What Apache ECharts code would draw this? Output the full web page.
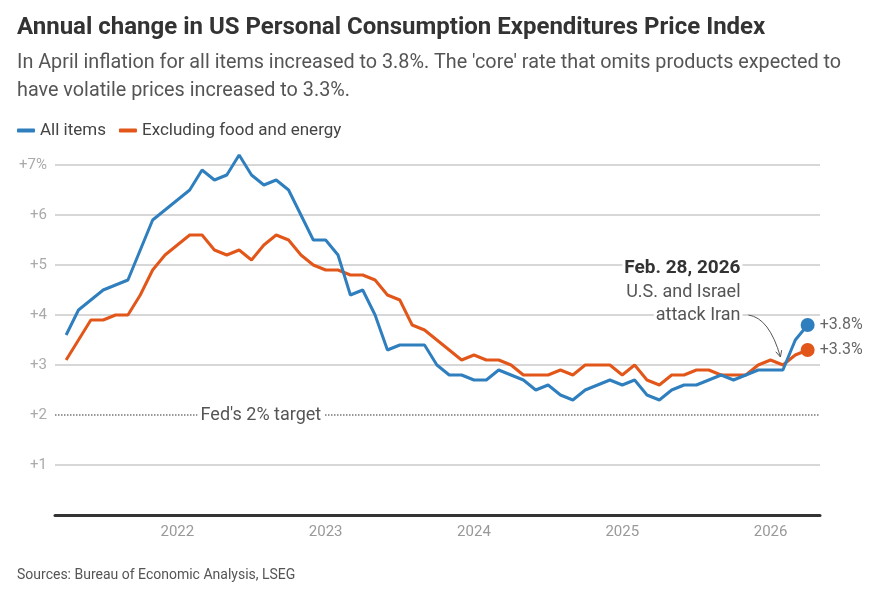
<!DOCTYPE html>
<html>
<head>
<meta charset="utf-8">
<script src="https://cdn.jsdelivr.net/npm/echarts@6/dist/echarts.min.js"></script>
<style>
  html, body { margin: 0; padding: 0; background: #fff; }
  #chart { width: 888px; height: 593px; }
</style>
</head>
<body>
<div id="chart"></div>
<script>
// monthly readings, Apr 2021 .. Apr 2026
const startMonth = 3; // months since Jan 2021 (Apr 2021)
const allItems = [3.6, 4.1, 4.3, 4.5, 4.6, 4.7, 5.3, 5.9, 6.1, 6.3,
  6.5, 6.9, 6.7, 6.8, 7.2, 6.8, 6.6, 6.7, 6.5, 6.0,
  5.5, 5.5, 5.2, 4.4, 4.5, 4.0, 3.3, 3.4, 3.4, 3.4,
  3.0, 2.8, 2.8, 2.7, 2.7, 2.9, 2.8, 2.7, 2.5, 2.6,
  2.4, 2.3, 2.5, 2.6, 2.7, 2.6, 2.7, 2.4, 2.3, 2.5,
  2.6, 2.6, 2.7, 2.8, 2.7, 2.8, 2.9, 2.9, 2.9, 3.5, 3.8];
const core = [3.1, 3.5, 3.9, 3.9, 4.0, 4.0, 4.4, 4.9, 5.2, 5.4,
  5.6, 5.6, 5.3, 5.2, 5.3, 5.1, 5.4, 5.6, 5.5, 5.2,
  5.0, 4.9, 4.9, 4.8, 4.8, 4.7, 4.4, 4.3, 3.8, 3.7,
  3.5, 3.3, 3.1, 3.2, 3.1, 3.1, 3.0, 2.8, 2.8, 2.8,
  2.9, 2.8, 3.0, 3.0, 3.0, 2.8, 3.0, 2.7, 2.6, 2.8,
  2.8, 2.9, 2.9, 2.8, 2.8, 2.8, 3.0, 3.1, 3.0, 3.2, 3.3];

const seriesNames = ["All items", "Excluding food and energy"];
const colors = ["#2f7fbf", "#e2561a"];
const yearTicks = [12, 24, 36, 48, 60];
const yearLabels = ["2022", "2023", "2024", "2025", "2026"];
const fedTarget = 2;

const FONT = "Roboto";

function toPoints(values) {
  return values.map((v, i) => {
    const pt = [startMonth + i, v];
    if (i === values.length - 1) {
      return { value: pt, symbol: "circle", symbolSize: 14 };
    }
    return pt;
  });
}

const chart = echarts.init(document.getElementById("chart"), null, { renderer: "canvas" });

function lineSeries(i, values) {
  return {
    type: "line",
    name: seriesNames[i],
    data: toPoints(values),
    symbol: "none",
    showSymbol: true,
    clip: false,
    z: 3 + (1 - i),
    color: colors[i],
    itemStyle: { color: colors[i] },
    lineStyle: { width: 3, color: colors[i] },
    emphasis: { disabled: true },
    endLabel: {
      show: true,
      formatter: () => "+" + values[values.length - 1].toFixed(1) + "%",
      color: "#666",
      fontSize: 16,
      fontFamily: FONT,
      distance: 12
    }
  };
}

const series = [lineSeries(0, allItems), lineSeries(1, core)];
series[0].markLine = {
  silent: true,
  symbol: "none",
  label: { show: false },
  lineStyle: { type: "dotted", color: "#777", width: 1.5 },
  data: [{ yAxis: fedTarget }]
};

chart.setOption({
  animation: false,
  textStyle: { fontFamily: FONT },
  title: [
    {
      left: 17,
      top: 16,
      padding: 0,
      text: "Annual change in US Personal Consumption Expenditures Price Index",
      textStyle: { fontSize: 24, fontWeight: "bold", color: "#333", fontFamily: FONT },
      subtext: "In April inflation for all items increased to 3.8%. The 'core' rate that omits products expected to\nhave volatile prices increased to 3.3%.",
      subtextStyle: { fontSize: 19.8, color: "#555", lineHeight: 28, fontFamily: FONT },
      itemGap: 9
    },
    {
      left: 17,
      top: 568,
      padding: 0,
      text: "Sources: Bureau of Economic Analysis, LSEG",
      textStyle: { fontSize: 14, fontWeight: "normal", color: "#555", fontFamily: FONT }
    }
  ],
  legend: {
    left: 17,
    top: 122,
    padding: 0,
    icon: "roundRect",
    itemWidth: 18,
    itemHeight: 4,
    itemGap: 13,
    selectedMode: false,
    textStyle: { fontSize: 17, color: "#444", fontFamily: FONT },
    data: seriesNames
  },
  grid: { left: 55, right: 68, top: 165, bottom: 78 },
  xAxis: {
    type: "value",
    min: 2.1,
    max: 64,
    axisLine: { show: true, onZero: false, lineStyle: { color: "#333", width: 3 } },
    axisTick: { show: false },
    splitLine: { show: false },
    axisLabel: {
      customValues: yearTicks,
      formatter: (v) => yearLabels[yearTicks.indexOf(Math.round(v))] || "",
      color: "#999",
      fontSize: 15,
      margin: 10
    }
  },
  yAxis: {
    type: "value",
    min: 0,
    max: 7,
    interval: 1,
    axisLine: { show: false },
    axisTick: { show: false },
    splitLine: {
      lineStyle: {
        color: ["transparent", "#cacaca", "transparent", "#cacaca", "#cacaca", "#cacaca", "#cacaca", "#cacaca"],
        width: 1.5
      }
    },
    axisLabel: {
      formatter: (v) => (v === 0 ? "" : v === 7 ? "+7%" : "+" + v),
      color: "#aaa",
      fontSize: 15,
      margin: 8
    }
  },
  series: series
});

// annotations placed in data space
const px = (m, v) => chart.convertToPixel({ gridIndex: 0 }, [m, v]);

const fedPos = px(18.76, fedTarget);
const noteMonth = 57.73;
const noteLines = [
  { text: "Feb. 28, 2026", v: 4.94, bold: true },
  { text: "U.S. and Israel", v: 4.46 },
  { text: "attack Iran", v: 4.0 }
];
const arrowStart = px(58.05, 4.0);
const arrowCtrl = px(59.9, 3.94);
const arrowTip = px(60.8, 3.16);

const dx = arrowTip[0] - arrowCtrl[0];
const dy = arrowTip[1] - arrowCtrl[1];
const len = Math.hypot(dx, dy);
const ux = dx / len, uy = dy / len;
const head = 7, ang = 0.45;
function rot(x, y, a) { return [x * Math.cos(a) - y * Math.sin(a), x * Math.sin(a) + y * Math.cos(a)]; }
const h1 = rot(-ux, -uy, ang), h2 = rot(-ux, -uy, -ang);

const graphics = [
  {
    type: "text",
    x: fedPos[0],
    y: fedPos[1],
    z: 10,
    style: {
      text: "Fed's 2% target",
      align: "center",
      verticalAlign: "middle",
      fill: "#555",
      font: "18px " + FONT,
      backgroundColor: "#fff",
      padding: [1, 3]
    }
  },
  {
    type: "bezierCurve",
    z: 10,
    shape: {
      x1: arrowStart[0] + 2, y1: arrowStart[1],
      cpx1: arrowCtrl[0], cpy1: arrowCtrl[1],
      x2: arrowTip[0], y2: arrowTip[1]
    },
    style: { stroke: "#555", lineWidth: 1, fill: null }
  },
  {
    type: "polyline",
    z: 10,
    shape: {
      points: [
        [arrowTip[0] + h1[0] * head, arrowTip[1] + h1[1] * head],
        [arrowTip[0], arrowTip[1]],
        [arrowTip[0] + h2[0] * head, arrowTip[1] + h2[1] * head]
      ]
    },
    style: { stroke: "#555", lineWidth: 1, fill: null }
  }
];

noteLines.forEach((n) => {
  const p = px(noteMonth, n.v);
  graphics.push({
    type: "text",
    x: p[0],
    y: p[1],
    z: 10,
    style: {
      text: n.text,
      align: "right",
      verticalAlign: "middle",
      fill: n.bold ? "#333" : "#555",
      font: (n.bold ? "bold 19px " : "18px ") + FONT,
      backgroundColor: "#fff",
      padding: [0, 2]
    }
  });
});

chart.setOption({ graphic: graphics });
</script>
</body>
</html>
